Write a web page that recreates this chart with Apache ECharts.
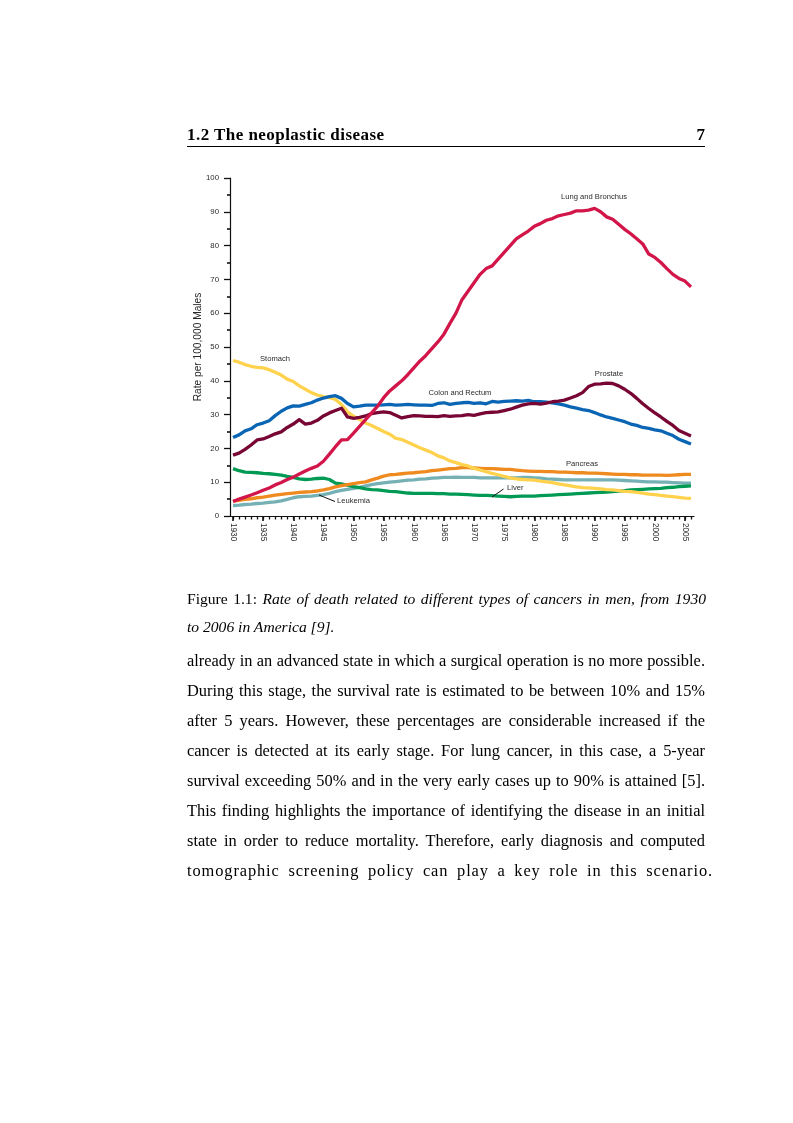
<!DOCTYPE html>
<html>
<head>
<meta charset="utf-8">
<script src="https://cdn.jsdelivr.net/npm/echarts@6/dist/echarts.min.js"></script>
<style>
  html, body { margin:0; padding:0; background:#fff; }
  #page { position:relative; width:793px; height:1123px; overflow:hidden; }
  #chart { position:absolute; left:0; top:0; width:793px; height:1123px; }
  .t { position:absolute; font-family:"Liberation Serif", "DejaVu Serif", serif; color:#000; white-space:nowrap; }
  .j { text-align:justify; text-align-last:justify; white-space:normal; }
  .body { font-size:16.4px; height:30px; line-height:30px; left:187px; width:518px; }
  .cap { font-size:15.6px; height:28px; line-height:28px; left:187px; width:519px; }
  .hdr { font-weight:bold; font-size:17px; letter-spacing:0.45px; line-height:20px; }
  .rule { position:absolute; left:187px; width:518px; top:146px; height:0; border-top:1px solid #000; }
</style>
</head>
<body>
<div id="page">
  <div id="chart"></div>
  <div class="t hdr" style="left:187px; top:125px;">1.2 The neoplastic disease</div>
  <div class="t hdr" style="left:680px; width:25px; text-align:right; top:125px; letter-spacing:0;">7</div>
  <div class="rule"></div>

  <div class="t cap j" style="top:585px;">Figure 1.1: <i>Rate of death related to different types of cancers in men, from 1930</i></div>
  <div class="t cap" style="top:613px;"><i>to 2006 in America [9].</i></div>

  <div class="t body j" style="top:646px;">already in an advanced state in which a surgical operation is no more possible.</div>
  <div class="t body j" style="top:676px;">During this stage, the survival rate is estimated to be between 10% and 15%</div>
  <div class="t body j" style="top:706px;">after 5 years. However, these percentages are considerable increased if the</div>
  <div class="t body j" style="top:736px;">cancer is detected at its early stage. For lung cancer, in this case, a 5-year</div>
  <div class="t body j" style="top:766px;">survival exceeding 50% and in the very early cases up to 90% is attained [5].</div>
  <div class="t body j" style="top:796px;">This finding highlights the importance of identifying the disease in an initial</div>
  <div class="t body j" style="top:826px;">state in order to reduce mortality. Therefore, early diagnosis and computed</div>
  <div class="t body j" style="top:856px; width:526px; letter-spacing:0.9px;">tomographic screening policy can play a key role in this scenario.</div>
</div>
<script>
// ---------------- data ----------------
const years = [
  1930,1931,1932,1933,1934,1935,1936,1937,1938,1939,
  1940,1941,1942,1943,1944,1945,1946,1947,1948,1949,
  1950,1951,1952,1953,1954,1955,1956,1957,1958,1959,
  1960,1961,1962,1963,1964,1965,1966,1967,1968,1969,
  1970,1971,1972,1973,1974,1975,1976,1977,1978,1979,
  1980,1981,1982,1983,1984,1985,1986,1987,1988,1989,
  1990,1991,1992,1993,1994,1995,1996,1997,1998,1999,
  2000,2001,2002,2003,2004,2005,2006
];

const lungBronchus = [
  4.3, 5.0, 5.6, 6.2, 6.9, 7.6, 8.3, 9.2, 9.9, 10.8,
  11.5, 12.4, 13.3, 14.1, 14.8, 16.2, 18.3, 20.5, 22.5, 22.6,
  24.5, 26.5, 28.5, 30.5, 32.5, 35.0, 37.0, 38.5, 40.0, 41.8,
  43.8, 45.8, 47.5, 49.5, 51.5, 53.8, 57.0, 60.0, 64.0, 66.5,
  69.0, 71.5, 73.2, 74.0, 76.0, 78.0, 80.0, 82.0, 83.2, 84.3,
  85.7, 86.5, 87.5, 88.0, 88.8, 89.2, 89.6, 90.3, 90.3, 90.5,
  91.0, 90.0, 88.5, 87.8, 86.3, 84.8, 83.5, 82.0, 80.5, 77.5,
  76.5, 75.0, 73.2, 71.5, 70.3, 69.5, 67.8
];

const stomach = [
  46.0, 45.5, 44.8, 44.3, 44.0, 43.8, 43.3, 42.5, 41.7, 40.5,
  39.8, 38.5, 37.5, 36.5, 35.8, 35.3, 35.0, 34.5, 33.0, 30.8,
  29.5, 28.5, 27.5, 26.8, 25.9, 25.0, 24.2, 23.0, 22.6, 21.8,
  21.0, 20.2, 19.5, 18.8, 17.8, 17.2, 16.3, 15.8, 15.2, 14.8,
  14.1, 13.6, 13.1, 12.6, 12.2, 11.7, 11.3, 11.0, 10.8, 10.7,
  10.6, 10.3, 10.1, 9.9, 9.5, 9.2, 8.9, 8.6, 8.4, 8.3,
  8.2, 8.0, 7.8, 7.7, 7.5, 7.3, 7.2, 7.0, 6.8, 6.5,
  6.3, 6.1, 5.9, 5.7, 5.5, 5.3, 5.2
];

const colonRectum = [
  23.2, 24.0, 25.2, 25.8, 27.0, 27.5, 28.2, 29.7, 31.0, 32.0,
  32.6, 32.5, 33.0, 33.5, 34.3, 34.9, 35.3, 35.6, 34.8, 33.3,
  32.3, 32.5, 32.8, 32.8, 32.8, 32.9, 33.0, 32.8, 32.9, 33.0,
  32.9, 32.8, 32.8, 32.7, 33.3, 33.5, 33.0, 33.3, 33.5, 33.6,
  33.3, 33.5, 33.2, 33.9, 33.7, 33.9, 34.0, 34.1, 34.0, 34.2,
  33.8, 33.8, 33.7, 33.5, 33.2, 32.8, 32.3, 31.9, 31.5, 31.2,
  30.6, 29.9, 29.3, 28.9, 28.4, 27.9, 27.2, 26.8, 26.2, 25.9,
  25.5, 25.2, 24.5, 23.8, 22.7, 22.0, 21.3
];

const prostate = [
  18.0, 18.6, 19.7, 21.0, 22.5, 22.8, 23.5, 24.3, 24.9, 26.2,
  27.2, 28.5, 27.2, 27.5, 28.3, 29.6, 30.5, 31.2, 31.9, 29.3,
  28.9, 29.2, 29.6, 30.3, 30.6, 30.8, 30.6, 29.8, 29.0, 29.4,
  29.7, 29.6, 29.5, 29.5, 29.4, 29.7, 29.5, 29.6, 29.7, 30.0,
  29.8, 30.2, 30.6, 30.7, 30.8, 31.2, 31.6, 32.2, 32.8, 33.2,
  33.3, 33.1, 33.4, 33.8, 34.0, 34.3, 34.9, 35.6, 36.5, 38.3,
  39.0, 39.1, 39.3, 39.2, 38.5, 37.5, 36.3, 34.8, 33.2, 31.8,
  30.5, 29.3, 28.0, 26.8, 25.3, 24.5, 23.7
];

const pancreas = [
  4.4, 4.6, 4.9, 5.1, 5.4, 5.6, 5.9, 6.2, 6.4, 6.6,
  6.8, 7.0, 7.1, 7.2, 7.4, 7.7, 8.1, 8.6, 9.0, 9.3,
  9.6, 9.9, 10.1, 10.7, 11.2, 11.8, 12.2, 12.3, 12.5, 12.7,
  12.8, 13.0, 13.1, 13.4, 13.6, 13.8, 14.0, 14.1, 14.3, 14.3,
  14.2, 14.1, 14.0, 14.0, 13.9, 13.8, 13.8, 13.6, 13.4, 13.3,
  13.2, 13.2, 13.1, 13.1, 13.0, 13.0, 12.9, 12.8, 12.8, 12.7,
  12.7, 12.6, 12.5, 12.4, 12.3, 12.3, 12.2, 12.2, 12.1, 12.1,
  12.1, 12.1, 12.0, 12.1, 12.2, 12.3, 12.3
];

const leukemia = [
  3.1, 3.2, 3.4, 3.5, 3.7, 3.8, 4.0, 4.2, 4.5, 4.9,
  5.4, 5.7, 5.8, 5.9, 6.1, 6.3, 6.7, 7.2, 7.6, 7.9,
  8.2, 8.5, 8.9, 9.3, 9.6, 9.8, 10.0, 10.2, 10.4, 10.6,
  10.7, 10.9, 11.0, 11.2, 11.3, 11.4, 11.4, 11.5, 11.4, 11.4,
  11.4, 11.3, 11.3, 11.3, 11.3, 11.3, 11.3, 11.3, 11.4, 11.4,
  11.3, 11.2, 11.0, 10.9, 10.8, 10.7, 10.7, 10.7, 10.7, 10.7,
  10.7, 10.7, 10.7, 10.7, 10.6, 10.5, 10.4, 10.3, 10.2, 10.1,
  10.1, 10.0, 10.0, 9.9, 9.8, 9.7, 9.7
];

const liver = [
  14.0, 13.4, 13.0, 12.9, 12.8, 12.6, 12.5, 12.3, 12.1, 11.7,
  11.4, 11.0, 10.8, 10.9, 11.1, 11.2, 10.8, 9.7, 9.5, 9.1,
  8.7, 8.4, 8.0, 7.8, 7.7, 7.5, 7.3, 7.2, 7.0, 6.8,
  6.7, 6.7, 6.7, 6.7, 6.6, 6.6, 6.5, 6.5, 6.4, 6.3,
  6.2, 6.1, 6.1, 6.0, 5.9, 5.8, 5.7, 5.8, 5.9, 5.9,
  5.9, 6.0, 6.1, 6.2, 6.3, 6.4, 6.5, 6.6, 6.7, 6.8,
  6.9, 7.0, 7.1, 7.2, 7.4, 7.5, 7.7, 7.8, 7.9, 8.0,
  8.1, 8.2, 8.4, 8.5, 8.7, 8.8, 8.9
];

const yTickMin = 0, yTickMax = 100, yTickStep = 10;
const xLabelEvery = 5;
const yAxisTitle = "Rate per 100,000 Males";

// ---------------- chart ----------------
const chart = echarts.init(document.getElementById('chart'), null, {renderer:'canvas'});
const sansFont = '"Liberation Sans", Arial, sans-serif';
const textCol = '#2a2a2a';

function line(name, data, color, z) {
  return {
    name, type:'line', data, xAxisIndex:0, yAxisIndex:0,
    showSymbol:false, symbol:'none', smooth:false, z,
    lineStyle:{ color, width:3.3, cap:'butt', join:'round' },
    emphasis:{ disabled:true }, silent:true, animation:false
  };
}

const labelStyle = { fontFamily: sansFont, fontSize: 7.6, fill: textCol };

chart.setOption({
  animation:false,
  backgroundColor:'transparent',
  grid:{ left:230, right:99, top:178, bottom:607, containLabel:false },
  xAxis:[
    {
      type:'category', data:years, boundaryGap:true, position:'bottom',
      axisLine:{ show:true, lineStyle:{ color:'#111', width:1.2 } },
      axisTick:{ show:true, alignWithLabel:true, interval:0, length:3.5, lineStyle:{ color:'#111', width:1.3 } },
      axisLabel:{ show:false },
      splitLine:{ show:false }
    },
    {
      type:'category', data:years, boundaryGap:true, position:'bottom',
      axisLine:{ show:false },
      axisTick:{ show:true, alignWithLabel:true, interval: xLabelEvery-1, length:5, lineStyle:{ color:'#111', width:1.6 } },
      axisLabel:{ show:true, interval: xLabelEvery-1, rotate:-90, margin:7,
        fontFamily: sansFont, fontSize:8.2, color:textCol },
      splitLine:{ show:false }
    }
  ],
  yAxis:{
    type:'value', min:yTickMin, max:yTickMax, interval:yTickStep,
    name: yAxisTitle, nameLocation:'middle', nameRotate:90, nameGap:27, nameMoveOverlap:false,
    nameTextStyle:{ fontFamily:sansFont, fontSize:10.2, color:textCol },
    axisLine:{ show:true, lineStyle:{ color:'#111', width:1.2 } },
    axisTick:{ show:true, inside:false, length:6, lineStyle:{ color:'#111', width:1.3 } },
    minorTick:{ show:true, splitNumber:2, length:3, lineStyle:{ color:'#111', width:1.6 } },
    axisLabel:{ fontFamily:sansFont, fontSize:7.8, color:textCol, margin:11 },
    splitLine:{ show:false }
  },
  series:[
    line('Leukemia', leukemia, '#74B0B4', 2),
    line('Liver', liver, '#009A55', 3),
    line('Pancreas', pancreas, '#EE8A1E', 4),
    line('Stomach', stomach, '#FFD24E', 5),
    line('Colon and Rectum', colonRectum, '#0A66B4', 6),
    line('Prostate', prostate, '#780634', 7),
    line('Lung and Bronchus', lungBronchus, '#D2164A', 8)
  ],
  graphic:[
    { type:'text', x:594, y:197, style:Object.assign({ text:'Lung and Bronchus', align:'center', verticalAlign:'middle' }, labelStyle) },
    { type:'text', x:260, y:359, style:Object.assign({ text:'Stomach', align:'left', verticalAlign:'middle' }, labelStyle) },
    { type:'text', x:460, y:393, style:Object.assign({ text:'Colon and Rectum', align:'center', verticalAlign:'middle' }, labelStyle) },
    { type:'text', x:609, y:373.5, style:Object.assign({ text:'Prostate', align:'center', verticalAlign:'middle' }, labelStyle) },
    { type:'text', x:582, y:463.5, style:Object.assign({ text:'Pancreas', align:'center', verticalAlign:'middle' }, labelStyle) },
    { type:'text', x:507, y:488, style:Object.assign({ text:'Liver', align:'left', verticalAlign:'middle' }, labelStyle) },
    { type:'text', x:337, y:500.5, style:Object.assign({ text:'Leukemia', align:'left', verticalAlign:'middle' }, labelStyle) },
    { type:'line', shape:{ x1:492, y1:497, x2:503.5, y2:489 }, style:{ stroke:'#111', lineWidth:1 }, z:100 },
    { type:'line', shape:{ x1:319, y1:495, x2:335, y2:501.5 }, style:{ stroke:'#111', lineWidth:1 }, z:100 }
  ]
});
</script>
</body>
</html>
